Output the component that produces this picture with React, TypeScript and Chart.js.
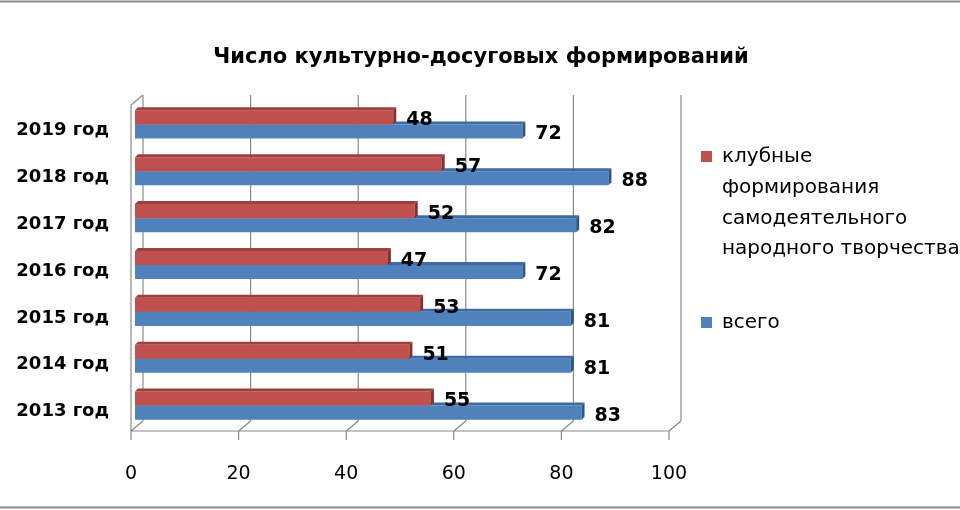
import React, { useEffect, useRef } from "react";
import { Chart, registerables } from "chart.js";

Chart.register(...registerables);

const titleText = "Число культурно-досуговых формирований";
const categories = ["2019 год", "2018 год", "2017 год", "2016 год", "2015 год", "2014 год", "2013 год"];
const clubValues = [48, 57, 52, 47, 53, 51, 55];
const totalValues = [72, 88, 82, 72, 81, 81, 83];
const seriesNames = ["клубные формирования самодеятельного народного творчества", "всего"];
const legendLines = [["клубные", "формирования", "самодеятельного", "народного творчества"], ["всего"]];
const xTicks = [0, 20, 40, 60, 80, 100];

const FONT = "'DejaVu Sans', sans-serif";
const fillColors = ["#C0504D", "#4F81BD"];
const topColors = ["#9E3F3C", "#3E6BA3"];
const sideColors = ["#85302E", "#2F5686"];
const GRID = "#8A8A8A";
const FX = -4; // front plane offset
const BX = 8; // back plane offset
const DY = -10;
const BD = 3;

const framePlugin = {
  id: "frame",
  beforeDraw(chart: any) {
    const { ctx, width, height } = chart;
    ctx.save();
    ctx.fillStyle = "#FFFFFF";
    ctx.fillRect(0, 0, width, height);
    ctx.strokeStyle = "#8C8C8C";
    ctx.lineWidth = 2;
    ctx.beginPath();
    ctx.moveTo(0, 1.5);
    ctx.lineTo(width, 1.5);
    ctx.moveTo(0, height - 2.5);
    ctx.lineTo(width, height - 2.5);
    ctx.stroke();
    ctx.font = `bold 21px ${FONT}`;
    ctx.fillStyle = "#000000";
    ctx.textAlign = "center";
    ctx.textBaseline = "middle";
    ctx.fillText(titleText, width / 2 + 1, 58);
    ctx.restore();
  },
};

const wallsPlugin = {
  id: "walls",
  beforeDatasetsDraw(chart: any) {
    const { ctx, chartArea: a } = chart;
    const xs = chart.scales.x;
    const top = a.top + 4;
    const B = a.bottom + 2;
    ctx.save();
    ctx.strokeStyle = GRID;
    ctx.lineWidth = 1.2;
    ctx.beginPath();
    xTicks.forEach((v) => {
      const px = xs.getPixelForValue(v);
      ctx.moveTo(px + BX, top + DY);
      ctx.lineTo(px + BX, B + DY);
      ctx.moveTo(px + FX, B);
      ctx.lineTo(px + BX, B + DY);
      ctx.moveTo(px + FX, B);
      ctx.lineTo(px + FX, B + 9);
    });
    const x0 = xs.getPixelForValue(xTicks[0]) + FX;
    const x1 = xs.getPixelForValue(xTicks[xTicks.length - 1]) + FX;
    ctx.moveTo(x0, B);
    ctx.lineTo(x1, B);
    ctx.moveTo(x0, B);
    ctx.lineTo(x0, top);
    ctx.lineTo(x0 + BX - FX, top + DY);
    ctx.stroke();
    ctx.restore();
  },
};

const barFacesPlugin = {
  id: "barFaces",
  afterDatasetDraw(chart: any, args: any) {
    const i = args.index;
    const meta = chart.getDatasetMeta(i);
    const ctx = chart.ctx;
    ctx.save();
    meta.data.forEach((bar: any) => {
      const p = bar.getProps(["x", "y", "base", "height"], true);
      const yt = p.y - p.height / 2;
      const yb = p.y + p.height / 2;
      ctx.fillStyle = topColors[i];
      ctx.beginPath();
      ctx.moveTo(p.base, yt);
      ctx.lineTo(p.base + BD, yt - BD);
      ctx.lineTo(p.x + BD, yt - BD);
      ctx.lineTo(p.x, yt);
      ctx.closePath();
      ctx.fill();
      ctx.fillStyle = sideColors[i];
      ctx.beginPath();
      ctx.moveTo(p.x, yt);
      ctx.lineTo(p.x + BD, yt - BD);
      ctx.lineTo(p.x + BD, yb - BD);
      ctx.lineTo(p.x, yb);
      ctx.closePath();
      ctx.fill();
    });
    ctx.restore();
  },
};

const labelsPlugin = {
  id: "valueLabels",
  afterDatasetsDraw(chart: any) {
    const ctx = chart.ctx;
    ctx.save();
    ctx.font = `bold 19px ${FONT}`;
    ctx.fillStyle = "#000000";
    ctx.textAlign = "left";
    ctx.textBaseline = "middle";
    chart.data.datasets.forEach((ds: any, i: number) => {
      const meta = chart.getDatasetMeta(i);
      meta.data.forEach((bar: any, j: number) => {
        const p = bar.getProps(["x", "y"], true);
        ctx.fillText(String(ds.data[j]), p.x + 13, p.y + 3);
      });
    });
    ctx.restore();
  },
};

const legendPlugin = {
  id: "sideLegend",
  afterDraw(chart: any) {
    const ctx = chart.ctx;
    ctx.save();
    ctx.font = `20px ${FONT}`;
    ctx.textAlign = "left";
    ctx.textBaseline = "middle";
    const starts = [157, 323];
    const lh = 30.7;
    chart.data.datasets.forEach((ds: any, i: number) => {
      const y0 = starts[i];
      ctx.fillStyle = fillColors[i];
      ctx.fillRect(701, y0 - 6, 11, 11);
      ctx.fillStyle = "#000000";
      legendLines[i].forEach((line, k) => {
        ctx.fillText(line, 722, y0 + k * lh);
      });
    });
    ctx.restore();
  },
};

export default function App() {
  const ref = useRef<HTMLCanvasElement | null>(null);

  useEffect(() => {
    document.body.style.margin = "0";
    if (!ref.current) return;
    const chart = new Chart(ref.current, {
      type: "bar",
      data: {
        labels: categories,
        datasets: [
          {
            label: seriesNames[0],
            data: clubValues,
            backgroundColor: fillColors[0],
            categoryPercentage: 0.6,
            barPercentage: 1.0,
          },
          {
            label: seriesNames[1],
            data: totalValues,
            backgroundColor: fillColors[1],
            categoryPercentage: 0.6,
            barPercentage: 1.0,
          },
        ],
      },
      options: {
        indexAxis: "y",
        responsive: false,
        animation: false,
        devicePixelRatio: 1,
        layout: { padding: { left: 0, right: 287, top: 101, bottom: 0 } },
        plugins: {
          legend: { display: false },
          tooltip: { enabled: false },
          title: { display: false },
        },
        scales: {
          x: {
            type: "linear",
            min: 0,
            max: 100,
            ticks: {
              stepSize: 20,
              color: "#000000",
              font: { family: FONT, size: 19 },
              padding: 34,
              labelOffset: -4,
            },
            grid: { display: false, drawTicks: false },
            border: { display: false },
            afterFit(scale: any) {
              scale.height = 81;
            },
          },
          y: {
            ticks: {
              color: "#000000",
              font: { family: FONT, size: 18, weight: "bold" },
              padding: 26,
              labelOffset: 6,
            },
            grid: { display: false, drawTicks: false },
            border: { display: false },
            afterFit(scale: any) {
              scale.width = 135;
            },
          },
        },
      },
      plugins: [framePlugin, wallsPlugin, barFacesPlugin, labelsPlugin, legendPlugin],
    });
    return () => chart.destroy();
  }, []);

  return (
    <div style={{ position: "fixed", left: 0, top: 0, width: 960, height: 510 }}>
      <canvas ref={ref} width={960} height={510} />
    </div>
  );
}
